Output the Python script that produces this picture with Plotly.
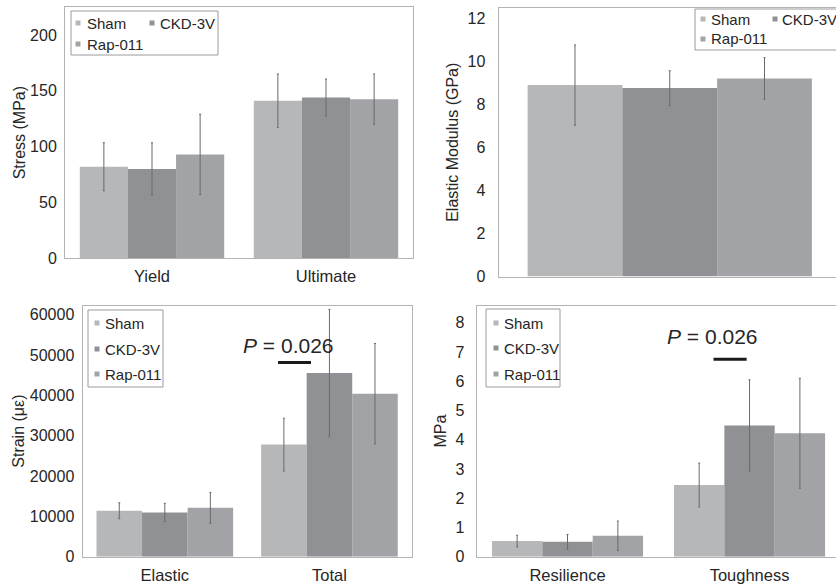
import plotly.graph_objects as go

# ---------------- data ----------------
groups = ["Sham", "CKD-3V", "Rap-011"]
colors = ["#b6b7b9", "#909194", "#a2a3a6"]

stress_cats = ["Yield", "Ultimate"]
stress_mean = {"Sham": [82, 141], "CKD-3V": [80, 144], "Rap-011": [93, 142.5]}
stress_sd = {"Sham": [21.5, 24], "CKD-3V": [23.5, 16.5], "Rap-011": [36, 22.5]}

modulus_cats = ["Elastic Modulus"]
modulus_mean = {"Sham": [8.91], "CKD-3V": [8.77], "Rap-011": [9.22]}
modulus_sd = {"Sham": [1.87], "CKD-3V": [0.81], "Rap-011": [0.97]}

strain_cats = ["Elastic", "Total"]
strain_mean = {"Sham": [11390, 27800], "CKD-3V": [10970, 45540], "Rap-011": [12130, 40430]}
strain_sd = {"Sham": [1980, 6550], "CKD-3V": [2265, 15800], "Rap-011": [3835, 12460]}

energy_cats = ["Resilience", "Toughness"]
energy_mean = {"Sham": [0.535, 2.45], "CKD-3V": [0.51, 4.49], "Rap-011": [0.72, 4.22]}
energy_sd = {"Sham": [0.2, 0.75], "CKD-3V": [0.25, 1.56], "Rap-011": [0.5, 1.88]}

p_text = "<i>P</i> = 0.026"

# ---------------- figure ----------------
W, H = 836, 587
FONT = "Liberation Sans, Arial, sans-serif"
TXT = "#262626"

def px(x):
    return x / W

def py(y):
    return 1 - y / H

fig = go.Figure()

panels = [
    (stress_cats, stress_mean, stress_sd, "x", "y"),
    (modulus_cats, modulus_mean, modulus_sd, "x2", "y2"),
    (strain_cats, strain_mean, strain_sd, "x3", "y3"),
    (energy_cats, energy_mean, energy_sd, "x4", "y4"),
]

for cats, mean, sd, xa, ya in panels:
    for g, c in zip(groups, colors):
        fig.add_trace(go.Bar(
            x=cats, y=mean[g], name=g, xaxis=xa, yaxis=ya,
            marker=dict(color=c, line=dict(width=0)),
            error_y=dict(type="data", array=sd[g], color="#6a6a6a",
                         thickness=1, width=1),
            showlegend=False,
        ))

axis_line = "#b3b3b3"
tickfont = dict(family=FONT, size=16, color=TXT)
xtickfont = dict(family=FONT, size=16.5, color=TXT)
titlefont = dict(family=FONT, size=16, color=TXT)

def xaxis(domain, anchor, rng, show=True, mirror=True):
    return dict(domain=domain, anchor=anchor, type="category", range=rng,
                showline=True, linecolor=axis_line, linewidth=1, mirror=mirror,
                showgrid=False, ticks="", showticklabels=show,
                tickfont=xtickfont, ticklabelstandoff=3, automargin=False,
                fixedrange=True)

def yaxis(domain, anchor, rng, dtick, title, standoff, tstand, mirror=True, fmt=None):
    d = dict(domain=domain, anchor=anchor, range=rng, dtick=dtick, tick0=0,
             showline=True, linecolor=axis_line, linewidth=1, mirror=mirror,
             showgrid=False, zeroline=False, ticks="",
             tickfont=tickfont, ticklabelstandoff=tstand,
             title=dict(text=title, font=titlefont, standoff=standoff),
             automargin=False, fixedrange=True)
    if fmt:
        d["tickformat"] = fmt
    return d

fig.update_layout(
    width=W, height=H,
    margin=dict(l=0, r=0, t=0, b=0),
    paper_bgcolor="white", plot_bgcolor="white",
    template="none",
    font=dict(family=FONT, color=TXT),
    barmode="group", bargap=0.17, bargroupgap=0,
    showlegend=False,
    xaxis=xaxis([px(65), px(413)], "y", [-0.5, 1.5]),
    yaxis=yaxis([py(258.3), py(7)], "x", [0, 225], 50, "Stress (MPa)", 0, 4),
    xaxis2=xaxis([px(498.5), 1], "y2", [-0.5, 0.4854], show=False),
    yaxis2=yaxis([py(276.5), py(8)], "x2", [0, 12.5], 2, "Elastic Modulus (GPa)", 4, 9,
                 mirror=False),
    xaxis3=xaxis([px(82.5), px(411.75)], "y3", [-0.5, 1.5]),
    yaxis3=yaxis([py(556.7), py(305.5)], "x3", [0, 62300], 10000, "Strain (\u03bc\u03b5)",
                 1, 4, fmt="d"),
    xaxis4=xaxis([px(476.5), 1], "y4", [-0.5, 1.475]),
    yaxis4=yaxis([py(556.7), py(305.5)], "x4", [0, 8.59], 1, "MPa", 4, 8, mirror=False),
)

shapes = []
annotations = []

# --------- legends (swatch + label), one per panel ---------
legend_specs = [
    # box (x0, y0, x1, y1) in px, entries positions (swatch x, row y, text x)
    ((71, 11, 218, 55), [(78, 23, 85), (152, 23, 158), (78, 44, 85)]),
    ((695, 9, 845, 50), [(703, 19, 709), (775, 19, 780), (703, 39, 709)]),
    ((88, 310, 163, 387), [(97, 323, 103), (97, 349, 103), (97, 374, 103)]),
    ((486, 309, 560, 387), [(496, 323, 502), (496, 348, 502), (496, 374, 502)]),
]
sw = 5
for (bx0, by0, bx1, by1), entries in legend_specs:
    shapes.append(dict(type="rect", xref="paper", yref="paper",
                       x0=px(bx0), x1=px(bx1), y0=py(by1), y1=py(by0),
                       line=dict(color="#9a9a9a", width=1), fillcolor="white",
                       layer="above"))
    for (sx, ry, tx), g, c in zip(entries, groups, colors):
        shapes.append(dict(type="rect", xref="paper", yref="paper",
                           x0=px(sx - sw / 2), x1=px(sx + sw / 2),
                           y0=py(ry + sw / 2), y1=py(ry - sw / 2),
                           line=dict(width=0), fillcolor=c, layer="above"))
        annotations.append(dict(xref="paper", yref="paper", x=px(tx), y=py(ry),
                                xanchor="left", yanchor="middle", showarrow=False,
                                text=g, font=dict(family=FONT, size=15, color=TXT)))

# --------- significance marks ---------
annotations.append(dict(xref="x3", yref="y3", x=0.752, y=52350, text=p_text,
                        showarrow=False, xanchor="center", yanchor="middle",
                        font=dict(family=FONT, size=21, color=TXT)))
shapes.append(dict(type="line", xref="x3", yref="y3", x0=0.688, x1=0.888,
                   y0=48150, y1=48150, line=dict(color="#1a1a1a", width=3)))
annotations.append(dict(xref="x4", yref="y4", x=0.794, y=7.53, text=p_text,
                        showarrow=False, xanchor="center", yanchor="middle",
                        font=dict(family=FONT, size=21, color=TXT)))
shapes.append(dict(type="line", xref="x4", yref="y4", x0=0.802, x1=0.984,
                   y0=6.75, y1=6.75, line=dict(color="#1a1a1a", width=3)))

fig.update_layout(shapes=shapes, annotations=annotations)

fig.write_html("out.html")
